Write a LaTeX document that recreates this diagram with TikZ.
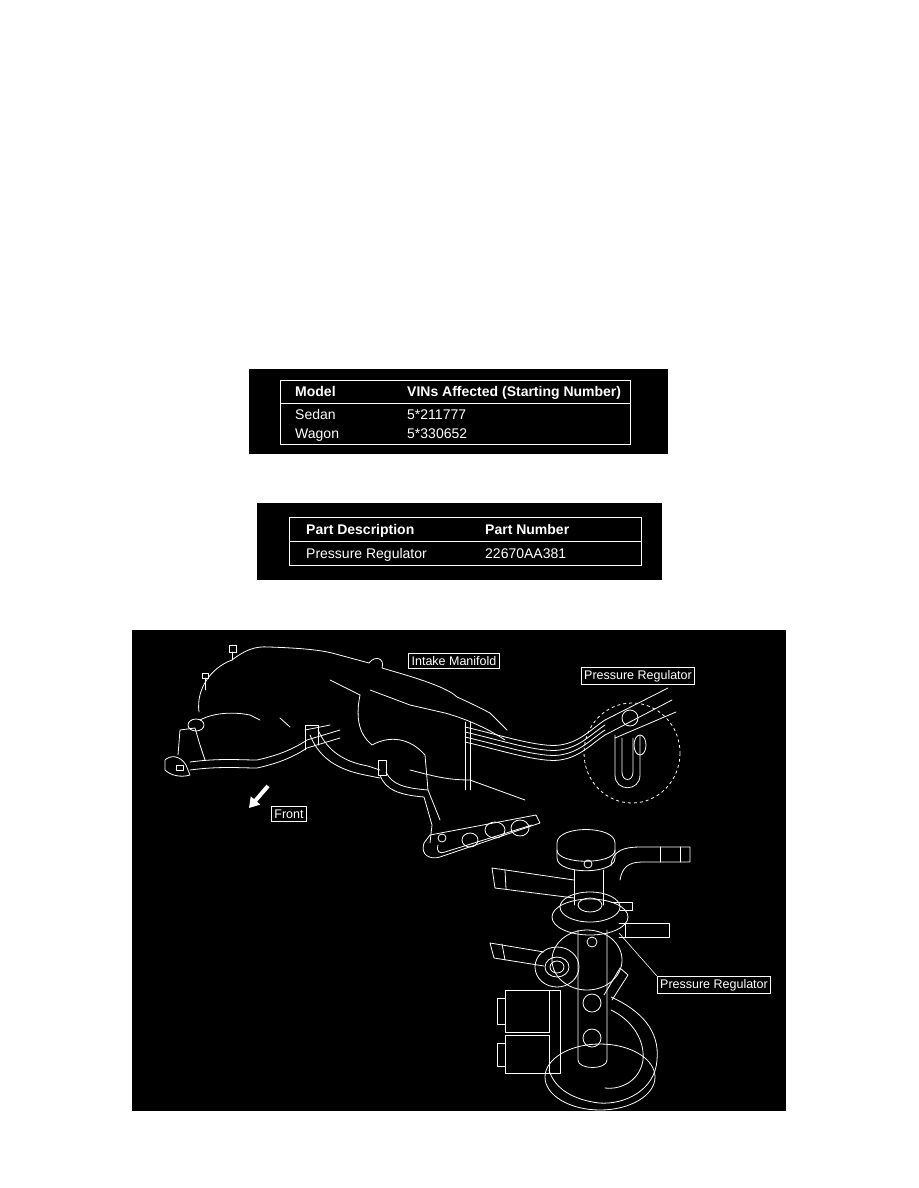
\documentclass[tikz,border=0pt]{standalone}
\usepackage{fontspec}
\setmainfont{Liberation Sans}
\usetikzlibrary{arrows.meta}
\begin{document}
\begin{tikzpicture}[x=1pt,y=-1pt,
  wl/.style={white,line width=0.8pt,line join=round,line cap=round},
  cell/.style={white,anchor=base west,inner sep=0pt,font=\fontsize{14}{16}\selectfont},
  hcell/.style={cell,font=\fontsize{14}{16}\selectfont\bfseries},
  lab/.style={draw=white,line width=0.8pt,fill=black,text=white,inner sep=3pt,font=\fontsize{12.5}{14}\selectfont}]
\useasboundingbox (0,0) rectangle (918,1188);
\fill[white] (0,0) rectangle (918,1188);
% table 1
\fill[black] (249,369) rectangle (668,454);
\draw[white,line width=0.8pt] (280,380) rectangle (630,444);
\draw[white,line width=0.8pt] (280,403) -- (630,403);
\node[hcell] (m) at (295,396) {Model};
\node[hcell] (v) at (407,396) {VINs Affected (Starting Number)};
\node[cell] (s) at (295,419) {Sedan};
\node[cell] (s1) at (407,419) {5*211777};
\node[cell] (w) at (295,438) {Wagon};
\node[cell] (w1) at (407,438) {5*330652};
% table 2
\fill[black] (257,503) rectangle (662,580);
\draw[white,line width=0.8pt] (289,517) rectangle (641,565);
\draw[white,line width=0.8pt] (289,541) -- (641,541);
\node[hcell] (pd) at (306,534) {Part Description};
\node[hcell] (pn) at (485,534) {Part Number};
\node[cell] (pr) at (306,558) {Pressure Regulator};
\node[cell] (pnum) at (485,558) {22670AA381};
% illustration
\fill[black] (132,630) rectangle (786,1111);
% manifold outline
\draw[wl] (199,712) .. controls (196,690) and (210,668) .. (232,660) .. controls (245,650) and (255,646) .. (269,647) .. controls (300,648) and (320,650) .. (332,653) -- (369,663) .. controls (375,655) and (385,658) .. (382,668) -- (399,673) .. controls (430,682) and (450,690) .. (457,697) .. controls (475,705) and (488,712) .. (490,713) -- (507,730);
\draw[wl] (232,660) -- (232,652) (229,652) rectangle (236,645);
\draw[wl] (205,690) -- (205,678) (202,678) rectangle (208,673);
\draw[wl] (330,680) -- (360,695) (370,690) -- (410,705) -- (445,713) .. controls (470,720) and (490,730) .. (505,740);
\draw[wl] (360,695) .. controls (355,720) and (360,735) .. (372,745) (372,745) .. controls (390,735) and (410,738) .. (425,755) -- (428,790);
\draw[wl] (200,720) .. controls (215,712) and (235,712) .. (250,715) -- (260,720) (280,718) -- (290,727) (305,730) -- (330,725);
\draw[wl] (410,770) .. controls (430,775) and (445,780) .. (470,780) -- (525,800);
% left end / pipes
\draw[wl] (165,760) .. controls (170,755) and (180,755) .. (186,765) -- (190,775) .. controls (180,778) and (170,775) .. (165,770) -- cycle;
\draw[wl] (176,765) rectangle (183,770);
\draw[wl] (178,755) -- (180,730) -- (195,728) -- (200,745) -- (205,760);
\draw[wl] (196,725) circle[x radius=8,y radius=6];
\draw[wl] (190,762) .. controls (220,758) and (240,760) .. (257,760) .. controls (280,755) and (295,748) .. (307,740) -- (340,730);
\draw[wl] (190,770) .. controls (220,766) and (240,768) .. (257,768) .. controls (280,763) and (295,756) .. (307,748) -- (340,738);
\draw[wl] (305,750) -- (305,725) -- (318,725) -- (318,745);
\draw[wl] (310,735) .. controls (320,760) and (340,770) .. (365,775) -- (380,778);
\draw[wl] (318,730) .. controls (328,752) and (345,762) .. (368,766) -- (380,770);
\draw[wl] (378,760) rectangle (386,775);
\draw[wl] (380,775) .. controls (385,790) and (400,795) .. (424,797) -- (432,825) -- (430,843);
\draw[wl] (386,772) .. controls (392,785) and (405,788) .. (428,790) -- (440,820);
% fuel pipes to regulator
\foreach \d in {0,5,10,15}{
  \draw[wl] (465,{727+\d}) .. controls (500,{735+\d}) and (540,{748+\d}) .. (560,{745+\d}) .. controls (580,{742+\d}) and (590,{730+\d}) .. (605,{720+\d});
}
\draw[wl] (465,722) -- (465,790) (470,722) -- (470,790);
\draw[wl] (605,720) -- (668,688) (605,735) -- (672,700) (615,738) -- (676,712);
% lower right of manifold
\draw[wl] (424,843) .. controls (420,855) and (430,860) .. (440,857) -- (540,823) -- (536,815) -- (430,835) -- cycle;
\draw[wl] (438,845) .. controls (436,852) and (440,854) .. (445,852) -- (532,825);
\draw[wl] (495,830) circle[x radius=10,y radius=8] (520,828) circle[x radius=9,y radius=8];
\draw[wl] (470,840) circle[x radius=8,y radius=7] (442,838) circle[radius=4];
% dashed circle and small regulator
\draw[white,line width=0.8pt,dashed] (632,753) circle[x radius=48,y radius=50];
\draw[wl] (615,735) -- (615,775) .. controls (615,792) and (640,792) .. (640,775) -- (640,735);
\draw[wl] (622,738) -- (622,772) .. controls (622,782) and (633,782) .. (633,772) -- (633,738);
\draw[wl] (630,718) circle[radius=8] (640,745) circle[x radius=6,y radius=10];
% front arrow
\draw[white,line width=4pt,-{Triangle[width=12pt,length=10pt]}] (268,786) -- (249,808);
% labels
\node[lab] (im) at (454,661) {Intake Manifold};
\node[lab] (pr1) at (638,676) {Pressure Regulator};
\node[lab] (fr) at (289,814) {Front};
\node[lab] (pr2) at (714,985) {Pressure Regulator};
\coordinate (lp) at (619,933);
\draw[white,line width=0.6pt] (pr2.north west) -- (lp);
% detailed regulator
\draw[wl] (557,843) .. controls (557,825) and (615,825) .. (615,843) -- (615,858) .. controls (615,875) and (557,875) .. (557,858) -- cycle;
\draw[wl] (557,850) .. controls (557,865) and (615,865) .. (615,850);
\draw[wl] (611,866) .. controls (612,850) and (625,847) .. (640,847) -- (690,847) -- (690,862) -- (642,862) .. controls (628,862) and (622,868) .. (620,880);
\draw[wl] (660,847) -- (660,862) (680,847) -- (680,862);
\draw[wl] (492,868) -- (495,888) -- (574,898) (492,868) -- (574,880);
\draw[wl] (505,870) -- (506,889);
\draw[wl] (574,870) -- (574,905) (603,870) -- (603,905);
\draw[wl] (588,864) circle[radius=4];
\draw[wl] (590,907) circle[x radius=30,y radius=15] (590,917) circle[x radius=38,y radius=18];
\draw[wl] (590,905) circle[x radius=12,y radius=7];
\draw[wl] (611,902) -- (632,902) -- (632,910) -- (620,910);
\draw[wl] (619,923) -- (669,923) -- (669,937) -- (619,937) (625,923) -- (625,937);
\draw[wl] (490,943) -- (494,958) -- (544,966) (490,943) -- (544,952);
\draw[wl] (502,944) -- (505,960);
\draw[wl] (587,960) circle[x radius=35,y radius=30];
\draw[wl] (557,967) circle[x radius=22,y radius=20] (557,967) circle[x radius=12,y radius=10] (557,967) circle[x radius=7,y radius=6];
\draw[wl] (578,930) -- (578,1060) .. controls (578,1070) and (607,1070) .. (607,1060) -- (607,930);
\draw[wl] (592,942) circle[radius=5];
\draw[wl] (592,1003) circle[radius=9] (592,1038) circle[radius=9];
\draw[wl] (611,997) .. controls (640,1010) and (660,1030) .. (657,1060) .. controls (655,1090) and (625,1105) .. (599,1103) .. controls (575,1100) and (555,1090) .. (549,1070);
\draw[wl] (611,1010) .. controls (632,1020) and (645,1040) .. (643,1060) .. controls (640,1080) and (622,1090) .. (605,1088);
\draw[wl] (600,1077) circle[x radius=55,y radius=33];
\draw[wl] (604,995) -- (620,968) -- (628,975) -- (612,1000);
\draw[wl] (505,990) rectangle (549,1032) (505,1035) rectangle (549,1073);
\draw[wl] (505,998) -- (497,998) -- (497,1024) -- (505,1024) (505,1043) -- (497,1043) -- (497,1066) -- (505,1066);
\draw[wl] (549,990) -- (560,990) -- (560,1073) -- (549,1073);
\end{tikzpicture}
\end{document}
